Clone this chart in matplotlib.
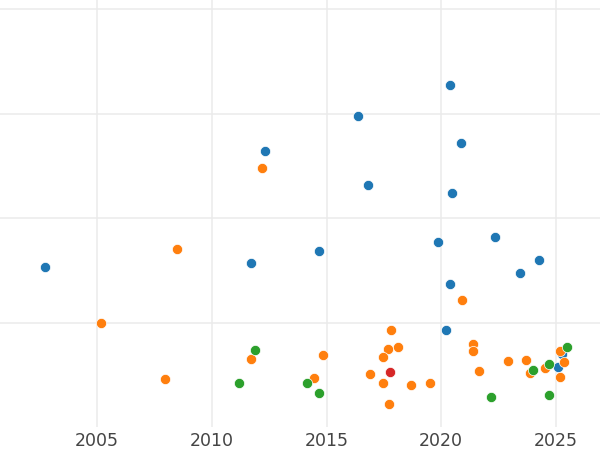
import matplotlib
matplotlib.use("Agg")
import matplotlib.pyplot as plt

# Data (year, value) per category
blue_x = [2002.73, 2011.70, 2012.32, 2014.69, 2016.36, 2016.80, 2020.38, 2020.86, 2020.45,
          2019.84, 2022.36, 2024.26, 2023.45, 2020.38, 2020.21, 2025.10, 2025.27]
blue_y = [1.534, 1.569, 2.642, 1.687, 2.973, 2.317, 3.269, 2.715, 2.241,
          1.770, 1.820, 1.601, 1.477, 1.374, 0.932, 0.582, 0.706]

orange_x = [2012.20, 2008.47, 2005.19, 2007.98, 2011.70, 2014.83, 2014.44,
            2017.81, 2017.68, 2018.10, 2017.45, 2016.88, 2017.48, 2018.70, 2019.50, 2017.73,
            2020.92, 2021.40, 2021.40, 2021.66, 2022.92, 2023.68, 2023.87, 2024.53,
            2025.16, 2025.35, 2025.18]
orange_y = [2.479, 1.706, 1.002, 0.464, 0.652, 0.693, 0.477,
            0.932, 0.751, 0.767, 0.671, 0.509, 0.423, 0.407, 0.423, 0.228,
            1.216, 0.798, 0.732, 0.541, 0.636, 0.643, 0.521, 0.569,
            0.732, 0.624, 0.483]

green_x = [2011.87, 2011.20, 2014.14, 2014.69, 2022.17, 2024.01, 2024.68, 2024.69, 2025.47]
green_y = [0.741, 0.423, 0.423, 0.328, 0.289, 0.553, 0.607, 0.314, 0.767]

red_x = [2017.78]
red_y = [0.534]

x_ticks = [2005, 2010, 2015, 2020, 2025]
y_ticks = [1, 2, 3, 4]

fig = plt.figure(figsize=(6, 4.5), dpi=100)
ax = fig.add_axes([0.0, 0.0511, 1.0, 0.9489])

kw = dict(s=54, edgecolors="white", linewidths=0.5, zorder=3)
ax.scatter(blue_x, blue_y, color="#1f77b4", **kw)
ax.scatter(orange_x, orange_y, color="#ff7f0e", **kw)
ax.scatter(green_x, green_y, color="#2ca02c", **kw)
ax.scatter(red_x, red_y, color="#d62728", **kw)

ax.set_xlim(2000.77, 2026.92)
ax.set_ylim(0.005, 4.086)
ax.set_xticks(x_ticks)
ax.set_xticklabels([str(t) for t in x_ticks])
ax.set_yticks(y_ticks)
ax.set_yticklabels([])
ax.grid(True, color="#ebebeb", linewidth=1.1, zorder=0)
ax.set_axisbelow(True)
for sp in ax.spines.values():
    sp.set_visible(False)
ax.tick_params(axis="both", length=0, pad=3.5, labelsize=12.5, labelcolor="#444444")

fig.savefig("out.png", dpi=100, facecolor="white")
